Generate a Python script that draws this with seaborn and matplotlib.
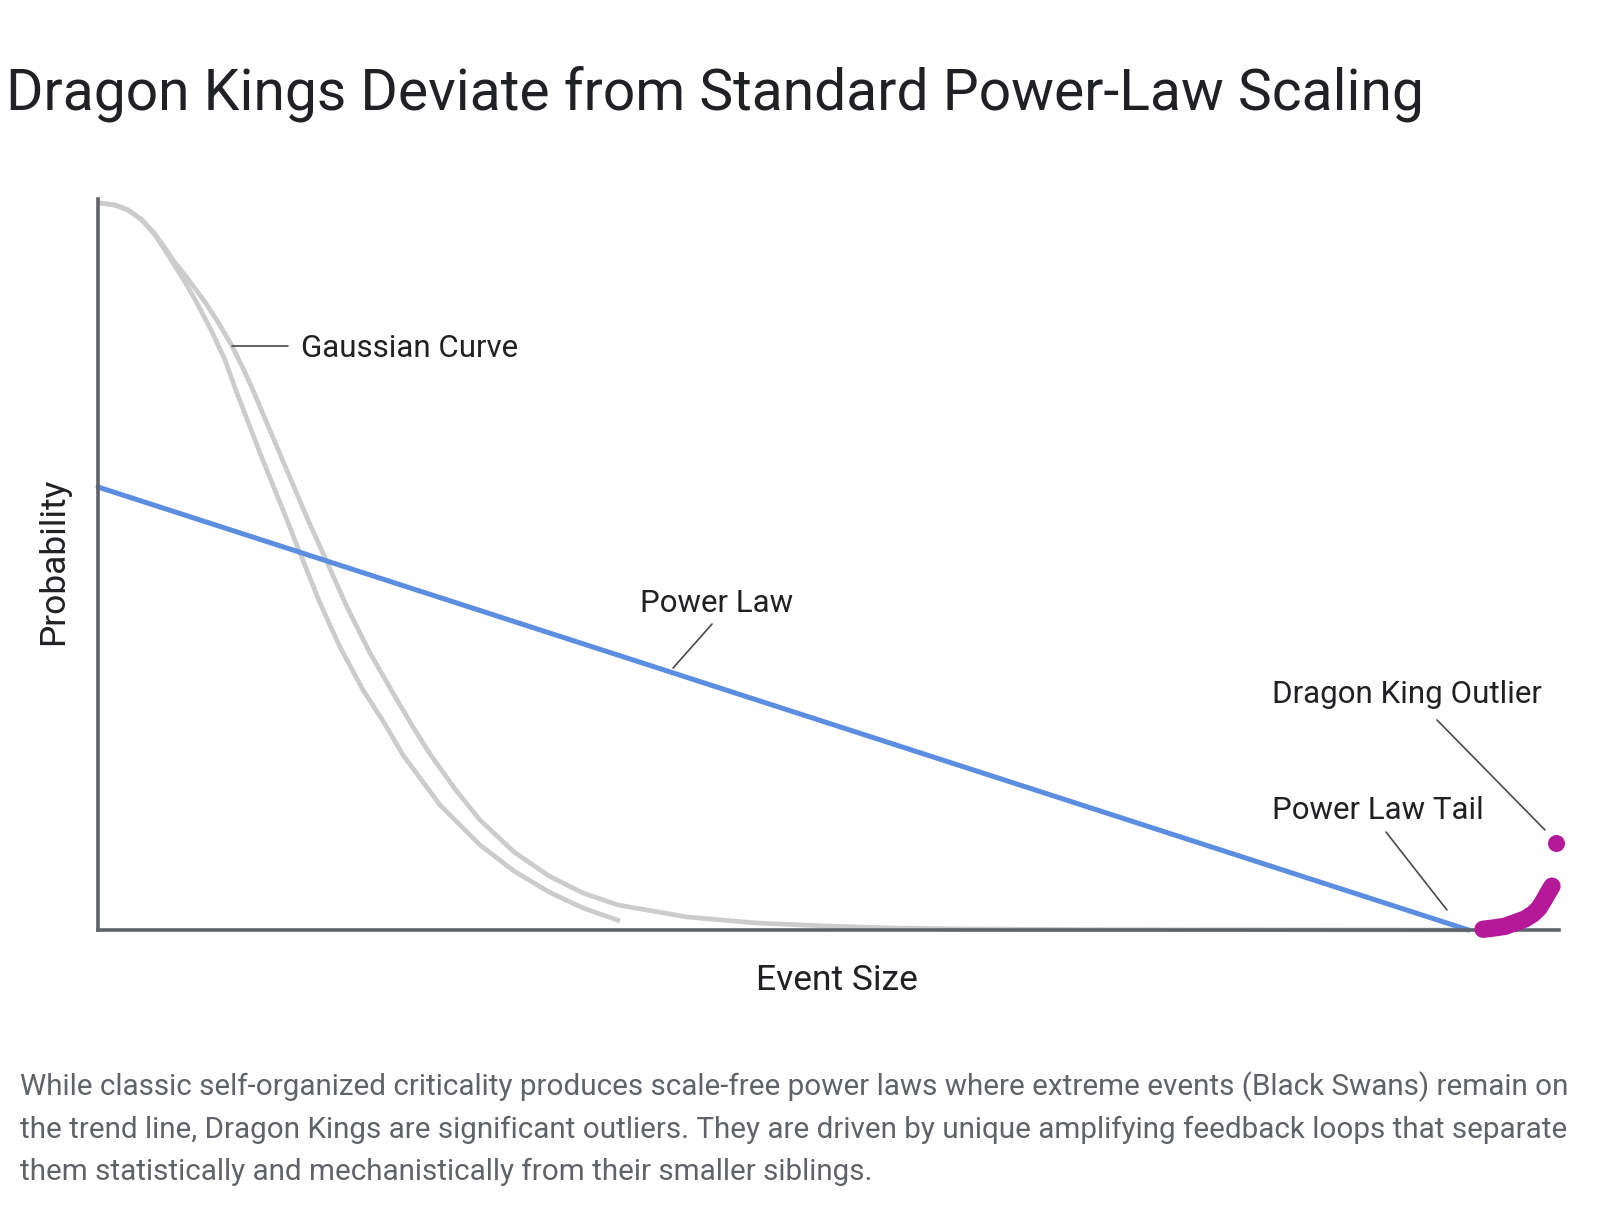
import matplotlib
matplotlib.use("Agg")
import matplotlib.pyplot as plt
import seaborn as sns
import pandas as pd

# ---------------- data ----------------
# Event size on 0..100, probability on 0..1
gauss_a_x = [0.10, 1.164, 2.053, 3.012, 3.901, 4.586, 5.133, 5.955, 6.845, 7.803,
             8.693, 9.377, 11.088, 12.936, 13.826, 15.195, 16.564, 18.138, 19.507,
             20.876, 23.409, 26.146, 28.474, 30.869, 33.196, 35.729]
gauss_a_y = [0.9945, 0.9918, 0.9850, 0.9713, 0.9508, 0.9302, 0.9124, 0.8865, 0.8550, 0.8181,
             0.7798, 0.7415, 0.6525, 0.5609, 0.5157, 0.4473, 0.3871, 0.3283, 0.2859,
             0.2394, 0.1710, 0.1163, 0.0807, 0.0520, 0.0301, 0.0123]

gauss_b_x = [0.10, 1.164, 2.053, 3.012, 3.901, 4.586, 5.133, 6.160, 7.324, 8.214,
             9.172, 9.856, 10.541, 12.252, 14.374, 15.674, 17.043, 18.617, 20.192,
             21.561, 22.724, 24.435, 26.146, 28.474, 30.869, 33.196, 35.592, 40.315,
             45.038, 49.760, 54.483, 59.206, 68.583, 93.908]
gauss_b_y = [0.9945, 0.9918, 0.9850, 0.9713, 0.9521, 0.9330, 0.9166, 0.8906, 0.8591, 0.8317,
             0.7989, 0.7715, 0.7415, 0.6607, 0.5609, 0.5034, 0.4419, 0.3789, 0.3242,
             0.2777, 0.2408, 0.1929, 0.1505, 0.1067, 0.0739, 0.0506, 0.0342, 0.0178,
             0.0096, 0.0055, 0.0027, 0.0014, 0.0005, 0.0]

power_x = [0.0, 93.8]
power_y = [0.606, 0.0]

tail_x = [94.80, 95.62, 96.30, 96.99, 97.67, 98.22, 98.63, 98.97, 99.25, 99.52]
tail_y = [0.001, 0.003, 0.005, 0.010, 0.015, 0.022, 0.030, 0.041, 0.051, 0.060]

outlier_x = [99.79]
outlier_y = [0.119]

title = "Dragon Kings Deviate from Standard Power-Law Scaling"
x_label = "Event Size"
y_label = "Probability"
caption_lines = [
    "While classic self-organized criticality produces scale-free power laws where extreme events (Black Swans) remain on",
    "the trend line, Dragon Kings are significant outliers. They are driven by unique amplifying feedback loops that separate",
    "them statistically and mechanistically from their smaller siblings.",
]

# ---------------- style ----------------
sns.set_theme(style="white")
plt.rcParams["font.family"] = ["Roboto", "DejaVu Sans"]

TEXT = "#202124"
AXIS = "#5f6368"
GRAY = "#cccccc"
BLUE = "#5b8de0"
MAGENTA = "#b5199a"
LEADER = "#4a4a4a"

W, H = 1600, 1206
fig = plt.figure(figsize=(W / 100, H / 100), dpi=100)
fig.patch.set_facecolor("white")

def fx(px):
    return px / W

def fy(py):
    return 1 - py / H

ax = fig.add_axes([fx(98), fy(930), (1559 - 98) / W, (930 - 199) / H])
ax.set_xlim(0, 100)
ax.set_ylim(0, 1)

df_a = pd.DataFrame({"x": gauss_a_x, "y": gauss_a_y})
df_b = pd.DataFrame({"x": gauss_b_x, "y": gauss_b_y})
df_p = pd.DataFrame({"x": power_x, "y": power_y})
df_t = pd.DataFrame({"x": tail_x, "y": tail_y})
df_o = pd.DataFrame({"x": outlier_x, "y": outlier_y})

sns.lineplot(data=df_b, x="x", y="y", ax=ax, color=GRAY, linewidth=3.4,
             sort=False, estimator=None, clip_on=False, zorder=2,
             solid_joinstyle="round")
sns.lineplot(data=df_a, x="x", y="y", ax=ax, color=GRAY, linewidth=3.4,
             sort=False, estimator=None, clip_on=False, zorder=2,
             solid_capstyle="butt", solid_joinstyle="round")
sns.lineplot(data=df_p, x="x", y="y", ax=ax, color=BLUE, linewidth=3.6,
             sort=False, estimator=None, clip_on=False, zorder=3)
sns.lineplot(data=df_t, x="x", y="y", ax=ax, color=MAGENTA, linewidth=12.5,
             sort=False, estimator=None, clip_on=False, zorder=5,
             solid_capstyle="round", solid_joinstyle="round")
sns.scatterplot(data=df_o, x="x", y="y", ax=ax, color=MAGENTA, s=150,
                linewidth=0, clip_on=False, zorder=5)

# axes
for side in ["top", "right"]:
    ax.spines[side].set_visible(False)
for side in ["left", "bottom"]:
    ax.spines[side].set_color(AXIS)
    ax.spines[side].set_linewidth(2.6)
    ax.spines[side].set_zorder(4)
ax.set_xticks([])
ax.set_yticks([])
ax.set_xlabel(x_label, fontsize=25.5, color=TEXT, va="center")
ax.set_ylabel(y_label, fontsize=25.5, color=TEXT, va="center")
ax.xaxis.set_label_coords(0.506, -0.0684)
ax.yaxis.set_label_coords(-0.0301, 0.504)

# annotations (data coords)
lab_fs = 22.5
ax.text(13.9, 0.784, "Gaussian Curve", fontsize=lab_fs, color=TEXT, va="baseline", ha="left")
ax.plot([9.17, 13.0], [0.799, 0.799], color=LEADER, lw=1.2)
ax.text(37.1, 0.435, "Power Law", fontsize=lab_fs, color=TEXT, va="baseline", ha="left")
ax.plot([42.03, 39.36], [0.4186, 0.3584], color=LEADER, lw=1.2)
ax.text(80.36, 0.3105, "Dragon King Outlier", fontsize=lab_fs, color=TEXT, va="baseline", ha="left")
ax.plot([91.65, 99.04], [0.2873, 0.1368], color=LEADER, lw=1.2, clip_on=False)
ax.text(80.36, 0.1518, "Power Law Tail", fontsize=lab_fs, color=TEXT, va="baseline", ha="left")
ax.plot([88.16, 92.33], [0.134, 0.0274], color=LEADER, lw=1.2)

# title and caption
fig.text(fx(6), fy(110), title, fontsize=41, color=TEXT, va="baseline", ha="left")
for i, line in enumerate(caption_lines):
    fig.text(fx(20), fy(1095 + 42.5 * i), line, fontsize=21.3, color=AXIS,
             va="baseline", ha="left")

fig.savefig("out.png", dpi=100, facecolor="white")
